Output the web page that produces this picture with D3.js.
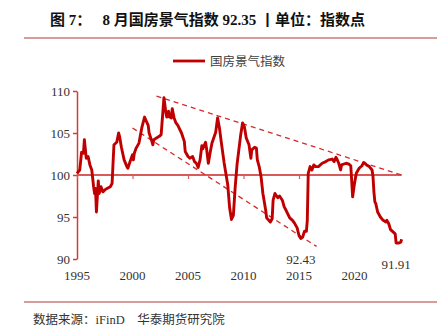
<!DOCTYPE html>
<html>
<head>
<meta charset="utf-8">
<script src="https://cdn.jsdelivr.net/npm/d3@7"></script>
<style>
  body { margin: 0; background: #fff; }
  text { font-family: "Liberation Serif", "Noto Sans CJK SC", serif; }
</style>
</head>
<body>
<div id="chart"></div>
<script>
// monthly index readings (国房景气指数)
var months = [
  "1995-01","1995-04","1995-06","1995-08","1995-09","1995-11","1996-01","1996-03","1996-05","1996-07",
  "1996-08","1996-09","1996-10","1996-12","1997-01","1997-03","1997-05","1997-08","1998-01","1998-03",
  "1998-04","1998-05","1998-08","1998-10","1998-11","1999-01","1999-04","1999-07","1999-08","1999-11",
  "2000-01","2000-02","2000-03","2000-05","2000-08","2000-11","2001-02","2001-04","2001-06","2001-07",
  "2001-10","2001-11","2001-12","2002-03","2002-06","2002-08","2002-09","2002-11","2003-01","2003-02",
  "2003-04","2003-05","2003-07","2003-08","2003-10","2003-12","2004-02","2004-06","2004-09","2004-10",
  "2005-01","2005-03","2005-06","2005-08","2005-10","2005-12","2006-02","2006-04","2006-05","2006-08",
  "2006-09","2006-11","2007-01","2007-03","2007-07","2007-09","2007-11","2008-01","2008-04","2008-08",
  "2008-10","2008-12","2009-02","2009-04","2009-06","2009-10","2009-12","2010-02","2010-04","2010-07",
  "2010-09","2010-10","2011-01","2011-03","2011-04","2011-06","2011-08","2011-10","2012-01","2012-02",
  "2012-06","2012-08","2012-09","2012-11","2013-02","2013-04","2013-07","2013-09","2013-11","2014-03",
  "2014-06","2014-08","2014-11","2015-01","2015-03","2015-05","2015-07","2015-09","2015-10","2015-11",
  "2016-01","2016-02","2016-03","2016-05","2016-07","2016-10","2017-02","2017-06","2017-09","2018-01",
  "2018-03","2018-05","2018-06","2018-08","2018-10","2018-11","2019-04","2019-07","2019-09","2019-11",
  "2020-01","2020-03","2020-06","2020-09","2020-11","2021-02","2021-05","2021-08","2021-09","2021-10",
  "2021-11","2021-12","2022-02","2022-05","2022-08","2022-11","2022-12","2023-02","2023-04","2023-07",
  "2023-09","2023-10","2024-01","2024-03","2024-04"
];
var index = [
  100.2,100.6,102.7,102.6,104.2,102.0,102.2,101.2,100.6,98.6,
  97.8,98.4,95.6,99.3,97.8,98.6,98.0,98.3,98.6,99.0,
  101.4,103.6,103.9,105.0,104.6,103.3,101.8,101.0,100.8,101.8,
  102.4,101.8,102.6,103.2,103.8,105.6,106.9,106.4,105.9,105.0,
  104.0,103.6,104.2,104.4,104.6,104.8,106.3,109.2,107.5,106.9,
  107.6,106.9,106.8,107.9,106.8,106.2,105.9,105.0,104.0,102.8,
  102.2,102.0,102.2,101.6,101.4,100.9,101.8,103.5,103.1,103.9,
  103.2,101.4,102.7,103.8,105.1,106.8,105.6,103.9,101.5,98.8,
  96.1,94.7,95.2,98.5,101.2,104.8,106.2,105.7,104.4,103.6,
  102.0,103.0,103.3,103.2,101.8,101.0,99.8,97.8,95.8,94.9,
  94.4,94.8,97.0,97.8,97.3,97.5,97.0,96.2,95.8,94.9,
  94.6,94.3,93.7,92.8,92.43,92.6,93.3,93.3,94.6,100.2,
  101.0,100.8,100.6,101.2,101.0,101.0,101.4,101.6,101.8,101.9,
  101.6,102.1,101.9,101.4,100.6,101.2,101.4,101.3,101.1,97.4,
  99.0,100.2,100.8,101.1,101.5,101.2,101.0,100.6,99.8,98.0,
  96.8,96.6,95.6,95.0,94.6,94.4,94.6,94.2,93.5,93.2,
  93.0,91.91,91.9,92.0,92.35
];

// dashed trend lines: [start, end]
var upperTrendMonths = ["2002-03", "2024-04"];
var upperTrendValues = [109.4, 100];
var lowerTrendMonths = ["2000-01", "2016-08"];
var lowerTrendValues = [105.6, 91.5];

var yTicks = [90, 95, 100, 105, 110];
var xTickYears = [1995, 2000, 2005, 2010, 2015, 2020];

var notes = [
  { month: "2015-03", text: "92.43", dy: 0 },
  { month: "2023-10", text: "91.91", dy: 5 }
];

var width = 443, height = 334;
var parseMonth = d3.timeParse("%Y-%m");

var svg = d3.select("#chart").append("svg")
    .attr("width", width)
    .attr("height", height);

var x = d3.scaleTime()
    .domain([new Date(1995, 0, 1), new Date(2020, 0, 1)])
    .range([77, 354.5]);
var y = d3.scaleLinear().domain([90, 110]).range([259, 91]);

// title + separators
svg.append("text")
    .attr("x", 50).attr("y", 25)
    .attr("font-size", 15).attr("font-weight", "bold").attr("fill", "#111")
    .attr("xml:space", "preserve")
    .text("图 7：   8 月国房景气指数 92.35 丨单位：指数点");

svg.append("line").attr("x1", 24).attr("x2", 437).attr("y1", 38).attr("y2", 38)
    .attr("stroke", "#c97a7a").attr("stroke-width", 1.5);
svg.append("line").attr("x1", 24).attr("x2", 437).attr("y1", 302).attr("y2", 302)
    .attr("stroke", "#c97a7a").attr("stroke-width", 1.5);

// legend
svg.append("line").attr("x1", 173).attr("x2", 205).attr("y1", 61).attr("y2", 61)
    .attr("stroke", "#c00000").attr("stroke-width", 2.8);
svg.append("text").attr("x", 210).attr("y", 65.5)
    .attr("font-size", 12.5).attr("fill", "#404040")
    .style("font-family", "'Noto Sans CJK SC', sans-serif")
    .text("国房景气指数");

// y axis
var yAxis = svg.append("g")
    .attr("transform", "translate(77,0)")
    .call(d3.axisLeft(y).tickValues(yTicks).tickSize(4).tickSizeOuter(0));
yAxis.select(".domain").attr("stroke", "#d43a3a").attr("stroke-width", 1.5);
yAxis.selectAll(".tick line").attr("stroke", "#d43a3a").attr("stroke-width", 1.5);
yAxis.selectAll(".tick text")
    .attr("font-family", "'Liberation Serif', serif")
    .attr("font-size", 13).attr("fill", "#333").attr("x", -7);

// x axis line crossing at 100, labels at the bottom
var xTickDates = xTickYears.map(function(d) { return new Date(d, 0, 1); });
var xAxis = svg.append("g")
    .attr("transform", "translate(0," + y(100) + ")")
    .call(d3.axisBottom(x).tickValues(xTickDates).tickSize(4).tickSizeOuter(0).tickFormat(""));
xAxis.select(".domain").remove();
xAxis.selectAll(".tick line").attr("stroke", "#d85a5a").attr("stroke-width", 1.2);
svg.append("line")
    .attr("x1", x(new Date(1995, 0, 1))).attr("x2", x(parseMonth("2024-04")))
    .attr("y1", y(100)).attr("y2", y(100))
    .attr("stroke", "#d85a5a").attr("stroke-width", 1.8);

svg.selectAll(".xlab")
    .data(xTickYears)
    .enter().append("text")
    .attr("x", function(d) { return x(new Date(d, 0, 1)); })
    .attr("y", 280)
    .attr("text-anchor", "middle")
    .attr("font-size", 13).attr("fill", "#333")
    .text(function(d) { return d; });

// trend lines
var trendLine = d3.line()
    .x(function(d) { return x(parseMonth(d[0])); })
    .y(function(d) { return y(d[1]); });

[[upperTrendMonths, upperTrendValues], [lowerTrendMonths, lowerTrendValues]].forEach(function(t) {
  svg.append("path")
      .attr("d", trendLine(d3.zip(t[0], t[1])))
      .attr("fill", "none")
      .attr("stroke", "#d42a2a")
      .attr("stroke-width", 1.3)
      .attr("stroke-dasharray", "5,4");
});

// series
var valueline = d3.line()
    .x(function(d) { return x(parseMonth(d[0])); })
    .y(function(d) { return y(d[1]); });

svg.append("path")
    .attr("d", valueline(d3.zip(months, index)))
    .attr("fill", "none")
    .attr("stroke", "#c00000")
    .attr("stroke-width", 2.9)
    .attr("stroke-linejoin", "round");

// annotations
svg.selectAll(".note")
    .data(notes)
    .enter().append("text")
    .attr("x", function(d) { return x(parseMonth(d.month)); })
    .attr("y", function(d) { return 264 + d.dy; })
    .attr("text-anchor", "middle")
    .attr("font-size", 13).attr("fill", "#333")
    .text(function(d) { return d.text; });

// source
svg.append("text")
    .attr("x", 33).attr("y", 324)
    .attr("font-size", 12.5).attr("fill", "#333")
    .attr("xml:space", "preserve")
    .text("数据来源：iFinD    华泰期货研究院");
</script>
</body>
</html>
